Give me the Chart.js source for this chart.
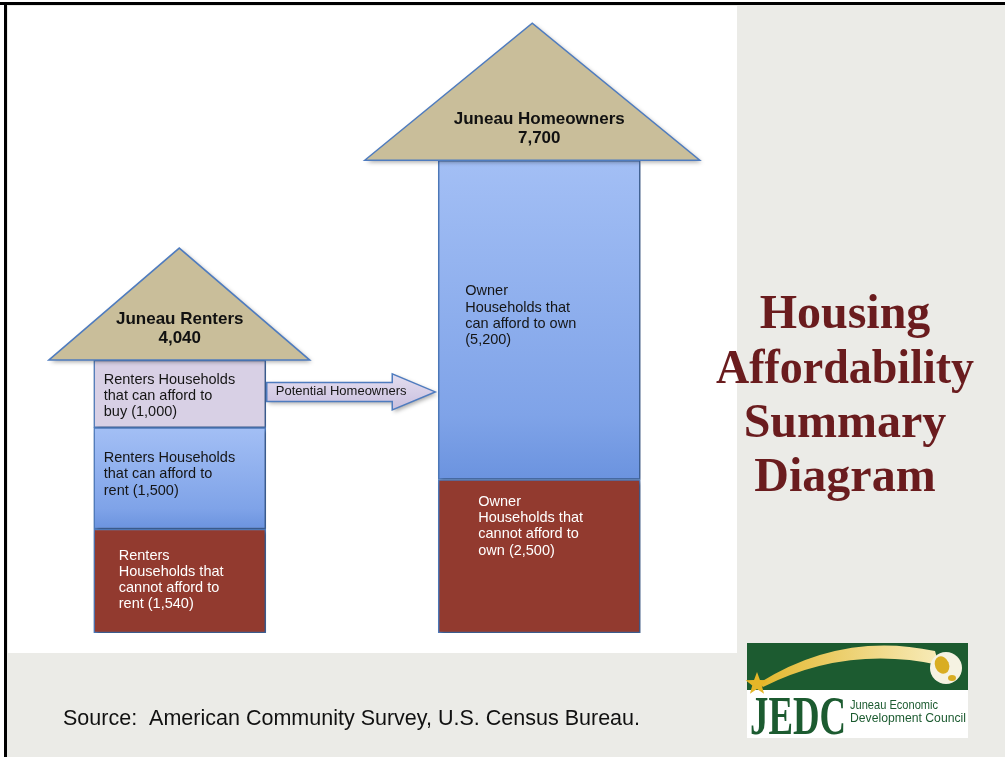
<!DOCTYPE html>
<html>
<head>
<meta charset="utf-8">
<script src="https://cdn.jsdelivr.net/npm/chart.js@4.4.1/dist/chart.umd.min.js"></script>
<style>
html, body { margin: 0; padding: 0; background: #ffffff; }
canvas { display: block; }
</style>
</head>
<body>
<canvas id="diagram" width="1005" height="757"></canvas>
<script>
// Housing affordability summary - stacked "house" bars
const groupNames = ['Juneau Renters', 'Juneau Homeowners'];
// bottom to top
const renterValues = [1540, 1500, 1000];
const ownerValues = [2500, 5200];
const renterText = [
    ['Renters', 'Households that', 'cannot afford to', 'rent ({v})'],
    ['Renters Households', 'that can afford to', 'rent ({v})'],
    ['Renters Households', 'that can afford to', 'buy ({v})']
];
const ownerText = [
    ['Owner', 'Households that', 'cannot afford to', 'own ({v})'],
    ['Owner', 'Households that', 'can afford to own', '({v})']
];
const arrowText = 'Potential Homeowners';
const titleLines = ['Housing', 'Affordability', 'Summary', 'Diagram'];
const sourceText = 'Source:  American Community Survey, U.S. Census Bureau.';

const RED = '#923a2f';
const LAVENDER = '#d8d0e5';
const EDGE = '#4f7cbf';
const fmt = v => v.toLocaleString('en-US');

// blue segments get a vertical gradient over their own extent
function stackRange(chart, dsIndex, index) {
    const ds = chart.data.datasets[dsIndex];
    let start = 0;
    for (let i = 0; i < dsIndex; i++) {
        const other = chart.data.datasets[i];
        if (other.yAxisID === ds.yAxisID && other.data[index] != null) start += other.data[index];
    }
    return [start, start + ds.data[index]];
}

function blueFill(c) {
    const chart = c.chart;
    const scale = chart.scales[chart.data.datasets[c.datasetIndex].yAxisID];
    if (!chart.chartArea || !scale || c.type !== 'data' || c.raw == null) return '#88a9ea';
    const [a, b] = stackRange(chart, c.datasetIndex, c.dataIndex);
    const y0 = scale.getPixelForValue(b), y1 = scale.getPixelForValue(a);
    const g = chart.ctx.createLinearGradient(0, y0, 0, y1);
    g.addColorStop(0, '#a3bff5');
    g.addColorStop(0.8, '#7fa3e8');
    g.addColorStop(1, '#6b93df');
    return g;
}

const renterFills = [RED, blueFill, LAVENDER];
const ownerFills = [RED, blueFill];
// label placement inside each segment (inset from bar left, vertical nudge)
const renterLabelPos = [{ x: 25, dy: -1, color: '#ffffff' }, { x: 10, dy: -4, color: '#151515' }, { x: 10, dy: 2, color: '#151515' }];
const ownerLabelPos = [{ x: 40, dy: -30, color: '#ffffff' }, { x: 27, dy: -4, color: '#151515' }];
// roof: horizontal shift of apex from bar centre, half base width, height
const roofStyle = [{ dx: -0.5, half: 130.5, h: 112 }, { dx: -7, half: 167.5, h: 137 }];

const datasets = [];
renterValues.forEach((v, i) => datasets.push({
    label: renterText[i].join(' ').replace('{v}', fmt(v)),
    data: [v, null], yAxisID: 'yR', stack: 'house', barThickness: 172,
    backgroundColor: renterFills[i], lines: renterText[i], pos: renterLabelPos[i]
}));
ownerValues.forEach((v, i) => datasets.push({
    label: ownerText[i].join(' ').replace('{v}', fmt(v)),
    data: [null, v], yAxisID: 'yO', stack: 'house', barThickness: 202,
    backgroundColor: ownerFills[i], lines: ownerText[i], pos: ownerLabelPos[i]
}));

function groupBox(chart, g) {
    let box = null;
    chart.data.datasets.forEach((ds, i) => {
        if (ds.data[g] == null) return;
        const el = chart.getDatasetMeta(i).data[g];
        const left = el.x - el.width / 2, right = el.x + el.width / 2;
        const top = Math.min(el.y, el.base), bottom = Math.max(el.y, el.base);
        if (!box) box = { left, right, top, bottom, cx: el.x };
        else { box.top = Math.min(box.top, top); box.bottom = Math.max(box.bottom, bottom); }
    });
    return box;
}

function shadow(ctx) {
    ctx.shadowColor = 'rgba(0,0,0,0.35)';
    ctx.shadowBlur = 4;
    ctx.shadowOffsetX = 2;
    ctx.shadowOffsetY = 2;
}

const diagramPlugin = {
    id: 'diagramPlugin',
    beforeDraw(chart) {
        const ctx = chart.ctx;
        ctx.save();
        ctx.fillStyle = '#ffffff';
        ctx.fillRect(0, 0, 1005, 757);
        ctx.fillStyle = '#ebebe7';
        ctx.fillRect(7, 5, 998, 752);
        ctx.fillStyle = '#000000';
        ctx.fillRect(0, 2, 1005, 3);
        ctx.fillRect(4, 2, 3, 755);
        ctx.fillStyle = '#ffffff';
        ctx.fillRect(8, 6, 729, 647);
        ctx.restore();
    },
    beforeDatasetsDraw(chart) {
        chart.ctx.save();
        shadow(chart.ctx);
    },
    afterDatasetsDraw(chart) {
        const ctx = chart.ctx;
        ctx.restore();

        // roofs with group totals
        [renterValues, ownerValues].forEach((vals, g) => {
            const b = groupBox(chart, g);
            const st = roofStyle[g];
            const rx = b.cx + st.dx;
            ctx.save();
            shadow(ctx);
            ctx.beginPath();
            ctx.moveTo(rx - st.half, b.top);
            ctx.lineTo(rx, b.top - st.h);
            ctx.lineTo(rx + st.half, b.top);
            ctx.closePath();
            ctx.fillStyle = '#c9be9a';
            ctx.fill();
            ctx.restore();
            ctx.save();
            ctx.strokeStyle = EDGE;
            ctx.lineWidth = 1.5;
            ctx.stroke();
            ctx.fillStyle = '#111111';
            ctx.font = 'bold 17px "Liberation Sans", Arial, sans-serif';
            ctx.textAlign = 'center';
            ctx.textBaseline = 'middle';
            ctx.fillText(groupNames[g], b.cx, b.top - 41);
            ctx.fillText(fmt(vals.reduce((s, v) => s + v, 0)), b.cx, b.top - 22);
            ctx.restore();
        });

        // segment labels
        ctx.save();
        ctx.font = '14.5px "Liberation Sans", Arial, sans-serif';
        ctx.textBaseline = 'middle';
        ctx.textAlign = 'left';
        chart.data.datasets.forEach((ds, i) => {
            const g = ds.data[0] != null ? 0 : 1;
            const el = chart.getDatasetMeta(i).data[g];
            const left = el.x - el.width / 2;
            const mid = (el.y + el.base) / 2 + ds.pos.dy;
            const lh = 16.3;
            const y0 = mid - (ds.lines.length - 1) * lh / 2;
            ctx.fillStyle = ds.pos.color;
            ds.lines.forEach((line, k) => {
                ctx.fillText(line.replace('{v}', fmt(ds.data[g])), left + ds.pos.x, y0 + k * lh);
            });
        });
        ctx.restore();

        // potential homeowners arrow: from the "can afford to buy" segment to the owners bar
        const src = chart.getDatasetMeta(renterValues.length - 1).data[0];
        const dst = groupBox(chart, 1);
        const x0 = src.x + src.width / 2 + 1, x1 = dst.left - 3;
        const cy = (src.y + src.base) / 2 - 2;
        const bh = 9.5, hh = 18, hl = 43;
        ctx.save();
        ctx.beginPath();
        ctx.moveTo(x0, cy - bh);
        ctx.lineTo(x1 - hl, cy - bh);
        ctx.lineTo(x1 - hl, cy - hh);
        ctx.lineTo(x1, cy);
        ctx.lineTo(x1 - hl, cy + hh);
        ctx.lineTo(x1 - hl, cy + bh);
        ctx.lineTo(x0, cy + bh);
        ctx.closePath();
        const ag = ctx.createLinearGradient(0, cy - hh, 0, cy + hh);
        ag.addColorStop(0, '#e4def0');
        ag.addColorStop(1, '#c9bfde');
        ctx.fillStyle = ag;
        shadow(ctx);
        ctx.fill();
        ctx.restore();
        ctx.save();
        ctx.strokeStyle = EDGE;
        ctx.lineWidth = 1.5;
        ctx.stroke();
        ctx.fillStyle = '#151515';
        ctx.font = '13px "Liberation Sans", Arial, sans-serif';
        ctx.textBaseline = 'middle';
        ctx.fillText(arrowText, x0 + 9, cy);
        ctx.restore();
    },
    afterDraw(chart) {
        const ctx = chart.ctx;
        ctx.save();
        // title
        ctx.fillStyle = '#6a1c1e';
        ctx.font = 'bold 48px "Liberation Serif", "Times New Roman", serif';
        ctx.textAlign = 'center';
        ctx.textBaseline = 'alphabetic';
        const bases = [328, 383, 437, 491];
        titleLines.forEach((t, i) => ctx.fillText(t, 845, bases[i], 258));

        // source line
        ctx.fillStyle = '#111111';
        ctx.font = '22px "Liberation Sans", Arial, sans-serif';
        ctx.textAlign = 'left';
        ctx.fillText(sourceText, 63, 725, 577);

        // JEDC logo
        const lx = 747, ly = 643;
        ctx.fillStyle = '#ffffff';
        ctx.fillRect(lx, ly, 221, 95);
        ctx.fillStyle = '#1c5b30';
        ctx.fillRect(lx, ly, 221, 47);
        ctx.beginPath();
        ctx.moveTo(lx + 12, ly + 40);
        ctx.quadraticCurveTo(lx + 95, ly - 12, lx + 188, ly + 8);
        ctx.lineTo(lx + 192, ly + 22);
        ctx.quadraticCurveTo(lx + 100, ly + 2, lx + 16, ly + 44);
        ctx.closePath();
        const sg = ctx.createLinearGradient(lx + 10, 0, lx + 195, 0);
        sg.addColorStop(0, '#e2b72c');
        sg.addColorStop(1, '#f8ecbb');
        ctx.fillStyle = sg;
        ctx.fill();
        ctx.beginPath();
        ctx.arc(lx + 199, ly + 25, 16, 0, Math.PI * 2);
        ctx.fillStyle = '#f5f2e2';
        ctx.fill();
        ctx.fillStyle = '#d9ad22';
        ctx.beginPath();
        ctx.ellipse(lx + 195, ly + 22, 7, 9, -0.4, 0, Math.PI * 2);
        ctx.fill();
        ctx.beginPath();
        ctx.ellipse(lx + 205, ly + 35, 4, 3, 0, 0, Math.PI * 2);
        ctx.fill();
        // star
        ctx.beginPath();
        for (let k = 0; k < 10; k++) {
            const r = k % 2 === 0 ? 12 : 5;
            const a = -Math.PI / 2 + k * Math.PI / 5;
            ctx.lineTo(lx + 10 + r * Math.cos(a), ly + 41 + r * Math.sin(a));
        }
        ctx.closePath();
        ctx.fillStyle = '#e5b628';
        ctx.fill();
        ctx.fillStyle = '#1c5b30';
        ctx.font = 'bold 54px "Liberation Serif", "Times New Roman", serif';
        ctx.fillText('JEDC', lx + 3, ly + 91, 96);
        ctx.font = '13.5px "Liberation Sans", Arial, sans-serif';
        ctx.fillText('Juneau Economic', lx + 103, ly + 66, 88);
        ctx.fillText('Development Council', lx + 103, ly + 79, 116);
        ctx.restore();
    }
};

new Chart(document.getElementById('diagram'), {
    type: 'bar',
    data: { labels: groupNames, datasets: datasets },
    options: {
        responsive: false,
        devicePixelRatio: 1,
        animation: false,
        layout: { padding: { left: -2, right: 286, top: 19, bottom: 124 } },
        datasets: { bar: { borderColor: EDGE, borderWidth: 1.5, borderSkipped: false } },
        plugins: { legend: { display: false }, tooltip: { enabled: false }, title: { display: false } },
        scales: {
            x: { stacked: true, display: false, offset: true },
            yR: { type: 'linear', stacked: true, display: false, min: 0, max: 9090 },
            yO: { type: 'linear', stacked: true, display: false, min: 0, max: 10000 }
        }
    },
    plugins: [diagramPlugin]
});
</script>
</body>
</html>
